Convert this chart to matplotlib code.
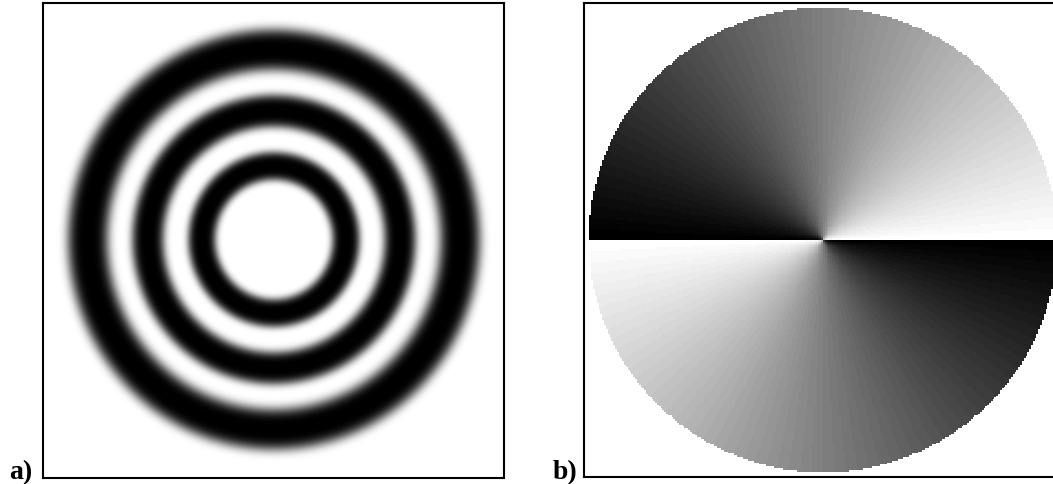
import numpy as np
import matplotlib
matplotlib.use("Agg")
import matplotlib.pyplot as plt

# panel a: dark fringes, centre radius and half-width (px)
ring_radii = [72, 126, 186]
ring_halfwidths = [13, 15, 19]
ring_sharpness = 4                   # exponent of the fringe profile
stretch_y = 1.02                     # rings are slightly taller than wide

# panel b: wrapped phase, quantised
phase_levels = 64                    # grey steps per half turn
pupil_radius = 235                   # px
phase_grid = 262                     # samples across the pupil frame

W, H = 1053, 485
fig = plt.figure(figsize=(W / 100, H / 100), dpi=100)

# ---- panel a ----
ax1 = fig.add_axes([43 / W, 6 / H, 461 / W, 475 / H])
xa = np.arange(461) - 230.5
ya = np.arange(475) - 236.0
X, Y = np.meshgrid(xa, ya)
r = np.hypot(X, Y / stretch_y)
dark = np.zeros_like(r)
for rc, hw in zip(ring_radii, ring_halfwidths):
    w = hw / np.log(2) ** (1 / ring_sharpness)
    dark = np.maximum(dark, np.exp(-np.abs((r - rc) / w) ** ring_sharpness))
I = 1 - dark
ax1.imshow(I, cmap="gray", vmin=0, vmax=1, extent=[-230.5, 230.5, -237.5, 237.5],
           interpolation="bilinear", aspect="auto")
ax1.set_xticks([])
ax1.set_yticks([])
for s in ax1.spines.values():
    s.set_linewidth(1.5)

# ---- panel b ----
ax2 = fig.add_axes([584 / W, 7 / H, 478 / W, 474 / H])
half = 239.0
xb = np.linspace(-half, half, phase_grid)
yb = np.linspace(half, -half, phase_grid)
XB, YB = np.meshgrid(xb, yb)
theta = np.mod(np.arctan2(YB, XB), np.pi)
level = np.floor(theta / np.pi * phase_levels) / (phase_levels - 1)
G = 1 - level
G = np.where(np.hypot(XB, YB) <= pupil_radius, G, 1.0)
rgb = np.dstack([G, G, G])
ax2.imshow(rgb, extent=[-half, half, -half + 2, half + 2], interpolation="nearest",
           aspect="auto")
ax2.set_xlim(-half, half)
ax2.set_ylim(-half + 2, half + 2)
ax2.set_xticks([])
ax2.set_yticks([])
for s in ax2.spines.values():
    s.set_linewidth(1.5)

fig.text(9 / W, 1 - 479 / H, "a)", family="Liberation Serif", weight="bold",
         fontsize=20, va="baseline", ha="left")
fig.text(553 / W, 1 - 479 / H, "b)", family="Liberation Serif", weight="bold",
         fontsize=20, va="baseline", ha="left")

fig.savefig("out.png", dpi=100)
